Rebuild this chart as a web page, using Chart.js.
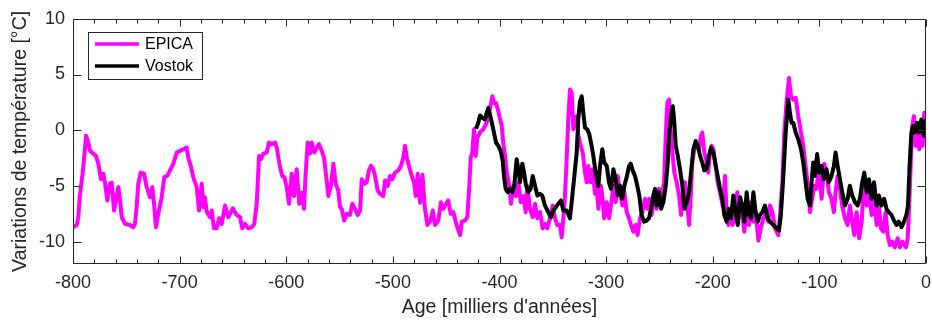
<!DOCTYPE html>
<html lang="fr">
<head>
<meta charset="utf-8">
<title>EPICA / Vostok</title>
<script src="https://cdn.jsdelivr.net/npm/chart.js@4.4.1/dist/chart.umd.min.js"></script>
<style>
  html, body { margin: 0; padding: 0; background: #fff; }
  canvas { display: block; }
</style>
</head>
<body>
<canvas id="canvas1" width="932" height="322"></canvas>
<script>
// EPICA Dome C : âge (milliers d'années) et variation de température (°C)
var epicaAge = [
  -800, -796.5, -795, -793.7, -791, -789, -787.8, -785.6, -784, -781, -778.4, -776.3, -773.7, -771.6, -770,
  -767.8, -765.3, -763.7, -761.5, -759.7, -757.5, -755.9, -754.3, -751.2, -746.5, -743.4, -741.9, -740.3,
  -738.8, -736.5, -733.4, -730.9, -727.8, -725.6, -724, -722.2, -720, -716.8, -714.4, -711.6, -709, -705.9,
  -702.7, -699.6, -696.5, -693.4, -691.9, -689.6, -687.2, -684, -681.8, -679.3, -677.8, -676.2, -674.6,
  -671.5, -669.9, -667.8, -665.2, -663.1, -660.5, -657.4, -654.3, -650.2, -646.5, -643.4, -641.2, -638.7,
  -635.6, -632.4, -630, -627.7, -625.5, -623.7, -621.5, -618.3, -616.2, -613.6, -610.5, -608.9, -605.9,
  -603.7, -601.8, -599.6, -597.4, -594.9, -592.7, -590.2, -587.8, -585.5, -583.4, -581.8, -579.9, -577.7,
  -576.1, -573.7, -571.4, -569.3, -566.7, -564.6, -562.1, -560.5, -558.3, -555.8, -553.6, -551.2, -549.6,
  -548, -545.6, -543.3, -540.2, -538, -535.5, -533, -530.8, -529.2, -526.8, -524.6, -522.4, -520.5, -518.3,
  -516.8, -514.2, -512.1, -509, -507.4, -504.9, -502.7, -500.5, -498, -494.9, -492.4, -490.2, -488.6, -487,
  -484.6, -482.3, -480.2, -478.6, -476.7, -474.5, -472.2, -470.2, -467.7, -465.2, -462.6, -460.5, -457.4,
  -454.9, -452.7, -450.2, -448, -445.8, -443.3, -441.1, -439.2, -437, -435.4, -432.3, -430.2, -428.3, -427,
  -425.5, -423.9, -422.3, -420.8, -418.3, -415.2, -412, -409.8, -408.2, -406.7, -405.1, -403.3, -401.1,
  -399.5, -397.9, -396.4, -394.8, -393.2, -390.8, -389.2, -387, -384.5, -382.3, -380.1, -377.7, -375.4,
  -373.9, -371.4, -368.8, -366.7, -364.5, -362, -359.5, -357.4, -355.2, -352.6, -350.1, -347.9, -345.8,
  -343.2, -341.7, -340.1, -338.6, -337, -335.5, -333.9, -332.3, -330.8, -329.2, -327.6, -326.1, -323.8,
  -322, -319.8, -318.2, -316.7, -314.5, -312.6, -310.4, -309, -307.3, -305, -303.6, -301.8, -299.4, -297.3,
  -295.4, -293.2, -291, -289.1, -287, -284.8, -282.9, -280.7, -278.5, -276.7, -274.5, -272.3, -270.5,
  -268.2, -266, -263.6, -261.4, -259.6, -257.3, -255.1, -252.6, -250.4, -247.9, -245.7, -244.1, -242.6,
  -241, -239.8, -237.9, -236, -233.8, -231.6, -229.7, -227.6, -226, -224.4, -222.2, -220.4, -219.2, -217.3,
  -215.1, -212.9, -211, -209.8, -207.9, -205.7, -204.2, -202.6, -201, -199.4, -197.2, -195.4, -193.2,
  -190.7, -188.5, -187, -185.4, -183.3, -181.3, -179.1, -177, -175.4, -172.9, -170.5, -168.2, -166, -164.1,
  -161.9, -159.8, -157.2, -155, -152.6, -150.5, -147.9, -146.3, -144.1, -141.6, -138.5, -136.9, -134.7,
  -132.9, -130.6, -128.5, -126.6, -124.5, -122.2, -119.8, -117.2, -115.1, -112.9, -111, -108.8, -107.3,
  -104.8, -102.6, -100.5, -97.9, -95.5, -93.2, -91.1, -88.6, -86.4, -84.8, -82.9, -80.7, -78.6, -76, -73.5,
  -71.4, -69.2, -67.3, -65.1, -62.8, -60.3, -58.2, -55.6, -53.5, -51, -48.8, -46.3, -44.2, -42.3, -40.1,
  -37.9, -36, -33.8, -31.7, -29.2, -26.6, -24.4, -22.2, -20.4, -18.8, -17.2, -16, -14.4, -12.9, -11.3,
  -9.7, -7.8, -6.3, -4.8, -3.2, -1.7, 0
];
var epicaTemp = [
  -8.7, -8.5, -7.8, -6.0, -3.9, -1.85, -0.5, -1.1, -1.85, -2.1, -2.3, -3.0, -4.4, -3.9, -4.7,
  -6.3, -4.8, -4.7, -7.2, -6.3, -5.1, -6.3, -7.8, -8.4, -8.5, -8.7, -8.4, -6.9,
  -4.8, -3.8, -3.9, -5.1, -6.0, -5.1, -6.6, -8.7, -7.5, -6.0, -4.2, -4.1, -3.6, -3.0,
  -2.0, -1.85, -1.7, -1.55, -2.45, -3.2, -4.2, -5.1, -7.2, -4.8, -6.9, -6.0, -7.3,
  -7.8, -7.2, -8.8, -8.8, -7.9, -8.4, -6.75, -7.8, -7.0, -7.6, -7.8, -8.8, -8.4,
  -8.8, -8.7, -8.4, -6.6, -2.3, -2.6, -2.1, -2.0, -1.1, -1.25, -1.1, -1.55, -3.3,
  -4.1, -4.2, -5.1, -6.6, -3.9, -5.9, -3.5, -6.6, -5.6, -7.05, -3.9, -1.1, -2.1,
  -1.1, -2.0, -1.55, -1.25, -1.85, -2.45, -4.5, -5.9, -5.1, -3.0, -4.8, -5.4, -6.9,
  -7.05, -8.1, -7.5, -7.6, -6.6, -7.05, -7.6, -7.2, -4.4, -4.8, -4.67, -3.6, -3.2, -3.5,
  -4.1, -5.4, -5.7, -5.9, -4.5, -5.0, -4.1, -4.4, -3.8, -3.6, -3.2, -2.45, -1.4, -2.45,
  -3.3, -4.1, -4.67, -5.9, -3.9, -6.5, -4.0, -6.8, -8.5, -8.2, -7.2, -8.5, -8.1,
  -6.45, -7.05, -6.6, -6.3, -7.5, -7.35, -8.2, -8.8, -9.4, -8.2, -8.1, -7.8, -5.0, -2.45,
  -2.0, 0.1, -2.3, -0.65, -0.2, 0.1, 0.67, 1.56, 2.3, 3.05, 2.45, 2.45, 1.7,
  1.0, 0.4, -1.25, -2.3, -3.8, -5.0, -6.6, -5.0, -5.9, -4.67, -6.45, -5.9, -7.35,
  -5.0, -7.05, -7.8, -6.6, -7.9, -7.35, -8.8, -8.4, -8.8, -7.9, -6.75, -7.9, -8.5,
  -8.5, -9.6, -7.9, -5.9, -2.6, 1.0, 3.65, 3.35, 0.1, 1.0, 1.27, -0.5, -1.4,
  -2.0, -3.8, -4.67, -3.2, -4.67, -3.5, -5.7, -4.97, -7.05, -4.97, -5.86, -7.9, -6.45, -7.9,
  -6.75, -4.97, -6.45, -4.1, -5.56, -6.75, -5.56, -7.35, -7.9, -8.5, -9.1, -8.5, -9.4,
  -7.9, -7.35, -6.15, -7.05, -6.15, -7.6, -6.15, -7.05, -5.26, -6.15, -4.67, -0.5, 2.45,
  2.75, 0.38, -2.0, -3.8, -4.67, -5.86, -7.6, -4.97, -4.67, -6.15, -8.5, -5.56, -2.9, -1.7,
  -1.25, -1.7, -0.5, -0.2, -2.0, -2.9, -3.8, -2.0, -1.4, -1.7, -3.2, -4.67, -5.56,
  -6.75, -4.1, -7.35, -8.5, -7.35, -8.5, -7.35, -5.56, -7.9, -6.75, -9.1, -7.35, -8.5, -6.45,
  -8.2, -7.35, -9.9, -8.8, -7.9, -7.5, -8.2, -6.75, -7.35, -8.8, -9.4, -7.6, -4.67,
  -0.2, 2.75, 4.68, 3.05, 2.75, 2.9, 1.27, -0.2, -1.4, -3.2, -4.67, -7.35, -6.45,
  -4.97, -5.26, -3.2, -6.15, -3.0, -3.8, -5.56, -6.15, -7.35, -5.56, -4.1, -5.26, -6.75, -7.9, -8.5,
  -6.75, -8.2, -9.4, -7.35, -9.7, -8.2, -4.67, -6.75, -5.56, -7.6, -6.15, -8.5, -6.75, -8.8, -9.1,
  -7.35, -9.4, -10.3, -10.0, -10.5, -9.7, -10.5, -10.0, -10.3, -10.5, -9.7, -7.35, -3.2, 0.38, 1.27,
  -1.4, 0.67, -1.7, 0.38, -1.4, 1.56, 1.0
];

// Vostok
var vostokAge = [
  -422, -419.9, -418.3, -416.1, -413.6, -412, -410.5, -408.2, -405.8, -403.3, -401.1, -398.9, -397,
  -395.8, -394.2, -392.3, -390.2, -388, -386.2, -383.9, -382.3, -380.8, -378.6, -377, -375.1, -373,
  -370.8, -368.9, -366.7, -364.5, -362, -359.9, -357.4, -354.3, -351.7, -349.6, -347.1, -344.9, -342.3,
  -340.1, -337, -333.9, -332.3, -330.1, -327.6, -326.1, -324.5, -322.9, -321.4, -319.8, -317.7, -315.8,
  -313.6, -312, -309.8, -307.3, -305.7, -303.6, -301.8, -299.4, -297.3, -295.4, -293.2, -291, -289.1,
  -287, -284.8, -282.9, -280.7, -278.5, -277, -275.1, -272.9, -270.8, -268.9, -266.7, -264.5, -262,
  -259.8, -257.9, -255.8, -254.1, -252.6, -250.4, -248.5, -246.3, -244.1, -242.2, -241, -239.1, -237.5,
  -236.3, -234.7, -232.8, -230.7, -228.5, -226.6, -224.4, -222.2, -220.4, -218.2, -216, -214.1, -211.9,
  -209.8, -207.9, -205.7, -203.5, -201.6, -199.4, -197.2, -195.4, -193.2, -191, -189.2, -187, -184.8,
  -182.9, -180.7, -178.5, -176.6, -174.4, -172.3, -170.4, -168.2, -166, -164.1, -161.9, -159.8, -157.8,
  -155.7, -153.5, -151, -148.5, -146.3, -143.2, -140.1, -137.9, -136.1, -133.8, -131.6, -129.1, -127.6,
  -126, -124.5, -122.2, -119.8, -117.2, -115.1, -112.9, -111, -108.8, -107.3, -105.8, -104.2, -102.1,
  -100.2, -97.9, -95.8, -93.3, -91.1, -88.6, -86.4, -84.8, -82.9, -80.7, -78.6, -76, -73.5, -71.4, -69.2,
  -66.6, -64.1, -62, -59.8, -57.9, -55.6, -53.5, -51, -48.8, -46.3, -44.2, -41.7, -39.3, -37.1, -34.9,
  -32.4, -30, -27.7, -25.6, -23, -20.6, -18.4, -16.9, -15.4, -13.7, -12.2, -10.6, -8.5, -6.6, -4.4, -2.2, 0
];
var vostokTemp = [
  0.14, 0.67, 1.33, 1.12, 0.97, 1.56, 2.0, 1.12, 0.08, -1.1, -1.4, -1.85, -2.74,
  -4.1, -5.26, -5.56, -5.26, -5.56, -4.97, -2.6, -3.5, -4.67, -3.0, -3.8, -4.97, -5.56,
  -5.26, -4.1, -4.97, -5.86, -5.7, -5.86, -6.75, -7.35, -7.8, -7.2, -6.9, -6.6, -6.3,
  -7.2, -7.2, -7.9, -6.45, -4.4, -2.0, 1.0, 2.6, 3.05, 1.56, 0.23, 0.08, -0.36,
  -1.4, -2.3, -3.8, -5.0, -3.2, -1.7, -2.9, -3.2, -4.67, -5.26, -3.5, -4.4, -5.86,
  -4.97, -6.15, -4.97, -4.2, -3.2, -3.0, -3.6, -4.1, -4.97, -5.86, -7.6, -8.2, -8.1,
  -7.9, -7.05, -5.86, -5.26, -6.75, -5.56, -7.05, -6.45, -4.97, -2.9, -0.5, 1.27, 2.16,
  1.0, -1.4, -2.3, -3.5, -4.97, -7.05, -6.45, -5.56, -3.8, -1.7, -0.96, -1.4, -2.3,
  -2.9, -3.6, -3.5, -2.3, -1.55, -2.0, -3.2, -4.1, -5.26, -6.15, -7.6, -8.2, -7.05,
  -7.9, -5.86, -7.35, -8.5, -6.0, -6.75, -8.2, -5.56, -7.6, -7.9, -5.56, -7.35, -8.2,
  -7.6, -7.35, -6.75, -7.9, -8.2, -8.5, -8.8, -9.0, -7.6, -4.1, -0.2, 2.75, 1.56,
  0.67, 0.67, -0.2, -0.8, -1.7, -2.9, -4.67, -6.15, -6.75, -4.67, -2.9, -4.1, -2.14,
  -3.8, -3.2, -4.4, -3.5, -4.67, -4.1, -3.2, -2.0, -3.2, -4.4, -5.56, -6.75, -6.15, -4.97, -5.86,
  -6.45, -6.75, -6.15, -4.67, -3.8, -5.56, -4.4, -6.15, -4.67, -6.75, -5.86, -6.75, -6.15, -7.05, -7.35,
  -7.6, -8.1, -8.5, -8.2, -8.7, -8.2, -7.6, -6.75, -3.2, -0.2, 0.38, -0.2, 0.67, -0.2, 0.97, -0.5, 1.0
];

var xTicks = [-800, -700, -600, -500, -400, -300, -200, -100, 0];
var yTicks = [-10, -5, 0, 5, 10];
var xMinorStep = 20;

var ink = '#262626';
var fontFamily = '"Liberation Sans", Arial, Helvetica, sans-serif';

function toPoints(xs, ys) {
  return xs.map(function (x, i) { return { x: x, y: ys[i] }; });
}

// Cadre fermé, graduations intérieures et légende encadrée
var axesBox = {
  id: 'axesBox',
  afterDraw: function (chart) {
    var ctx = chart.ctx, a = chart.chartArea;
    var sx = chart.scales.x, sy = chart.scales.y;
    var L = Math.round(a.left) + 0.5, R = Math.round(a.right) - 0.5;
    var T = Math.round(a.top) + 0.5, B = Math.round(a.bottom) - 0.5;
    ctx.save();
    ctx.strokeStyle = ink;
    ctx.lineWidth = 1;
    ctx.beginPath();
    ctx.rect(L, T, R - L, B - T);
    for (var v = sx.min; v <= sx.max; v += xMinorStep) {
      var px = Math.round(sx.getPixelForValue(v)) + 0.5;
      var len = (v % 100 === 0) ? 7 : 4;
      ctx.moveTo(px, B); ctx.lineTo(px, B - len);
      ctx.moveTo(px, T); ctx.lineTo(px, T + len);
    }
    yTicks.forEach(function (t) {
      var py = Math.round(sy.getPixelForValue(t)) + 0.5;
      ctx.moveTo(L, py); ctx.lineTo(L + 8, py);
      ctx.moveTo(R, py); ctx.lineTo(R - 8, py);
    });
    ctx.stroke();

    // légende
    var bx = 88.5, by = 32.5, bw = 114, bh = 47;
    ctx.fillStyle = '#ffffff';
    ctx.fillRect(bx, by, bw, bh);
    ctx.strokeRect(bx, by, bw, bh);
    ctx.font = '16px ' + fontFamily;
    ctx.textBaseline = 'middle';
    chart.data.datasets.forEach(function (ds, i) {
      var ly = 44 + i * 22;
      ctx.strokeStyle = ds.borderColor;
      ctx.lineWidth = 3.5;
      ctx.beginPath();
      ctx.moveTo(95, ly); ctx.lineTo(139, ly);
      ctx.stroke();
      ctx.fillStyle = '#000000';
      ctx.fillText(ds.label, 145, ly + 1);
    });
    ctx.restore();
  }
};

window.onload = function () {
  var ctx = document.getElementById('canvas1').getContext('2d');
  new Chart(ctx, {
    type: 'line',
    data: {
      datasets: [
        {
          label: 'EPICA',
          data: toPoints(epicaAge, epicaTemp),
          borderColor: '#ff00ff',
          borderWidth: 4,
          pointRadius: 0,
          borderJoinStyle: 'round',
          order: 2
        },
        {
          label: 'Vostok',
          data: toPoints(vostokAge, vostokTemp),
          borderColor: '#000000',
          borderWidth: 4,
          pointRadius: 0,
          borderJoinStyle: 'round',
          order: 1
        }
      ]
    },
    options: {
      responsive: false,
      animation: false,
      events: [],
      layout: { padding: { top: 17, right: 0, left: 0, bottom: 0 } },
      plugins: { legend: { display: false }, tooltip: { enabled: false } },
      scales: {
        x: {
          type: 'linear',
          min: -800,
          max: 0,
          afterFit: function (s) { s.height = 58; s.paddingRight = 6; },
          afterBuildTicks: function (s) { s.ticks = xTicks.map(function (v) { return { value: v }; }); },
          grid: { display: false, drawTicks: false },
          border: { display: false },
          ticks: { color: ink, padding: 8, maxRotation: 0, font: { family: fontFamily, size: 18 } },
          title: {
            display: true,
            text: "Age [milliers d'années]",
            color: ink,
            padding: { top: 0, bottom: 3 },
            font: { family: fontFamily, size: 19.5 }
          }
        },
        y: {
          min: -12,
          max: 10,
          afterFit: function (s) { s.width = 73; },
          afterBuildTicks: function (s) { s.ticks = yTicks.map(function (v) { return { value: v }; }); },
          grid: { display: false, drawTicks: false },
          border: { display: false },
          ticks: { color: ink, padding: 8, font: { family: fontFamily, size: 18 } },
          title: {
            display: true,
            text: 'Variations de température [°C]',
            color: ink,
            padding: { top: 9, bottom: 0 },
            font: { family: fontFamily, size: 19.5 }
          }
        }
      }
    },
    plugins: [axesBox]
  });
};
</script>
</body>
</html>
